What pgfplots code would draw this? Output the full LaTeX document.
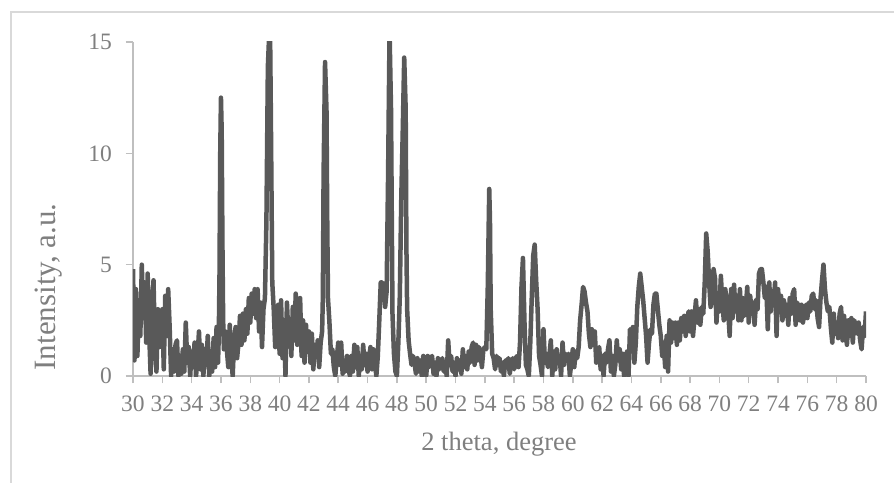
\documentclass[border=0pt]{standalone}
\usepackage{fontspec}
\setmainfont{Liberation Serif}
\usepackage{pgfplots}
\pgfplotsset{compat=1.18}
\definecolor{linegray}{HTML}{595959}
\definecolor{axisgray}{HTML}{BFBFBF}
\definecolor{textgray}{HTML}{7F7F7F}
\definecolor{framegray}{HTML}{D9D9D9}
\begin{document}
\begin{tikzpicture}
\useasboundingbox (0,0) rectangle (894pt,482pt);
\fill[white] (0,0) rectangle (894pt,482pt);
\draw[framegray, line width=1.5pt] (11pt,-2pt) -- (11pt,470pt) -- (896pt,470pt);
\begin{axis}[
 at={(133pt,106pt)}, anchor=south west,
 scale only axis, width=733pt, height=334pt,
 xmin=30, xmax=80, ymin=0, ymax=15,
 xtick={30,32,...,80}, ytick={0,5,10,15},
 axis x line*=bottom, axis y line*=left,
 axis line style={axisgray, line width=1.5pt, -},
 tick style={axisgray, line width=1.5pt},
 tick align=outside, major tick length=7pt,
 tick label style={font=\fontsize{23.5}{27}\selectfont, text=textgray, inner sep=0pt},
 /pgf/number format/assume math mode=true,
 xticklabel style={anchor=north, yshift=-13pt},
 yticklabel style={anchor=east, xshift=-14pt},
 xlabel={2 theta, degree}, ylabel={Intensity, a.u.},
 label style={text=textgray, inner sep=0pt},
 xlabel style={font=\fontsize{26.5}{30}\selectfont, at={(axis description cs:0.4993,-0.2216)}, anchor=base},
 ylabel style={font=\fontsize{31}{36}\selectfont, at={(axis description cs:-0.1051,0.2665)}, anchor=base},
]
\addplot[linegray, line width=4.5pt, line join=round, no marks] coordinates {
(30.0,4.8)(30.1,0.7)(30.2,3.9)(30.3,0.9)(30.4,3.4)(30.5,1.8)(30.6,5.0)(30.7,2.6)(30.8,4.2)(30.9,1.5)
(31.0,4.6)(31.1,2.0)(31.2,0.1)(31.3,3.1)(31.4,4.3)(31.5,1.2)(31.6,0.2)(31.7,3.0)(31.8,1.3)(31.9,2.5)
(32.0,3.0)(32.1,0.3)(32.2,3.6)(32.3,1.8)(32.4,3.9)(32.5,2.2)(32.6,0.0)(32.7,1.2)(32.8,0.2)(32.9,1.4)
(33.0,1.6)(33.1,0.0)(33.2,0.9)(33.3,0.1)(33.4,1.2)(33.5,0.2)(33.6,2.4)(33.7,0.6)(33.8,1.3)(33.9,0.0)
(34.0,1.1)(34.1,0.4)(34.2,1.5)(34.3,0.0)(34.4,0.8)(34.5,2.0)(34.6,0.3)(34.7,1.4)(34.8,0.0)(34.9,1.2)
(35.0,0.5)(35.1,1.8)(35.2,0.0)(35.3,1.0)(35.4,0.2)(35.5,1.7)(35.6,0.4)(35.7,2.2)(35.8,0.6)(35.85,1.8)
(35.9,4.5)(35.95,10.0)(36.0,12.5)(36.05,11.0)(36.1,6.0)(36.15,2.5)(36.2,1.2)(36.3,2.0)(36.4,1.2)(36.5,0.4)
(36.6,2.3)(36.7,0.9)(36.8,0.0)(36.9,1.6)(37.0,2.2)(37.1,0.8)(37.2,1.5)(37.3,2.7)(37.4,1.4)(37.5,2.8)
(37.6,1.6)(37.7,3.0)(37.8,1.9)(37.9,3.5)(38.0,2.4)(38.1,3.7)(38.2,2.8)(38.3,3.9)(38.4,2.6)(38.5,3.9)
(38.6,2.0)(38.7,3.3)(38.8,1.3)(38.9,3.0)(39.0,3.5)(39.1,6.9)(39.2,13.9)(39.3,15.5)(39.35,15.5)(39.4,12.0)
(39.5,4.2)(39.6,3.0)(39.7,1.3)(39.8,2.2)(39.9,3.2)(40.0,1.0)(40.1,3.4)(40.2,0.8)(40.3,2.5)(40.4,0.0)
(40.5,3.3)(40.6,1.8)(40.7,2.4)(40.8,0.9)(40.9,3.1)(41.0,1.6)(41.1,3.7)(41.2,1.4)(41.3,2.8)(41.4,3.5)
(41.5,0.9)(41.6,2.5)(41.7,0.6)(41.8,2.3)(41.9,1.1)(42.0,2.0)(42.1,0.6)(42.2,1.9)(42.3,0.3)(42.4,1.4)
(42.5,0.9)(42.6,1.6)(42.7,0.4)(42.8,1.5)(42.9,2.0)(42.95,3.5)(43.0,9.0)(43.1,14.1)(43.2,11.9)(43.25,7.0)
(43.3,3.5)(43.4,2.4)(43.5,1.0)(43.6,1.2)(43.7,0.4)(43.8,0.0)(43.9,0.8)(44.0,1.5)(44.1,0.5)(44.2,1.5)
(44.3,0.1)(44.4,0.7)(44.5,0.2)(44.6,0.9)(44.7,0.3)(44.8,0.0)(44.9,0.9)(45.0,0.2)(45.1,1.4)(45.2,0.4)
(45.3,1.3)(45.4,0.0)(45.5,0.9)(45.6,0.3)(45.7,1.4)(45.8,0.5)(45.9,1.0)(46.0,0.2)(46.1,0.8)(46.2,1.3)
(46.3,0.3)(46.4,1.2)(46.5,0.6)(46.6,0.0)(46.7,0.9)(46.8,2.5)(46.9,4.2)(47.0,4.2)(47.1,4.0)(47.2,3.1)
(47.3,3.8)(47.4,9.0)(47.5,15.5)(47.6,12.0)(47.7,2.8)(47.8,1.0)(47.9,0.2)(48.0,0.0)(48.1,1.5)(48.2,3.6)
(48.3,8.0)(48.4,11.0)(48.5,14.3)(48.6,12.0)(48.65,5.8)(48.7,3.0)(48.8,1.6)(48.9,1.0)(49.0,0.5)(49.1,0.9)
(49.2,0.6)(49.3,0.1)(49.4,0.8)(49.5,0.2)(49.6,0.7)(49.7,0.0)(49.8,0.9)(49.9,0.3)(50.0,0.0)(50.1,0.9)
(50.2,0.4)(50.3,0.8)(50.4,0.9)(50.5,0.1)(50.6,0.6)(50.7,0.0)(50.8,0.8)(50.9,0.3)(51.0,0.6)(51.1,0.8)
(51.2,0.2)(51.3,0.5)(51.4,0.0)(51.5,1.6)(51.6,0.5)(51.7,0.9)(51.8,0.2)(51.9,0.6)(52.0,0.0)(52.1,0.8)
(52.2,0.3)(52.3,0.7)(52.4,0.1)(52.5,1.2)(52.6,0.4)(52.7,0.9)(52.8,0.3)(52.9,1.1)(53.0,0.6)(53.1,1.3)
(53.2,1.5)(53.3,0.5)(53.4,1.4)(53.5,0.7)(53.6,1.3)(53.7,1.0)(53.8,0.4)(53.9,1.2)(54.0,1.3)(54.1,1.2)
(54.2,4.0)(54.3,8.4)(54.35,7.0)(54.4,3.0)(54.5,1.0)(54.6,0.8)(54.7,0.3)(54.8,0.9)(54.9,0.5)(55.0,0.8)
(55.1,0.2)(55.2,0.6)(55.3,0.0)(55.4,0.7)(55.5,0.5)(55.6,0.8)(55.7,0.1)(55.8,0.6)(55.9,0.8)(56.0,0.3)
(56.1,0.8)(56.2,0.9)(56.3,0.4)(56.4,1.5)(56.5,4.0)(56.6,5.3)(56.7,2.5)(56.8,0.5)(56.9,0.3)(57.0,0.0)
(57.1,1.5)(57.2,3.5)(57.3,5.4)(57.4,5.9)(57.5,4.3)(57.6,3.0)(57.7,0.9)(57.8,0.5)(57.9,0.0)(58.0,2.1)
(58.1,0.6)(58.2,1.0)(58.3,0.4)(58.4,0.9)(58.5,1.6)(58.6,0.0)(58.7,1.1)(58.8,0.3)(58.9,1.2)(59.0,0.6)
(59.1,0.9)(59.2,0.0)(59.3,1.5)(59.4,0.5)(59.5,1.0)(59.6,0.8)(59.7,1.0)(59.8,0.0)(59.9,0.6)(60.0,1.2)
(60.1,0.4)(60.2,1.1)(60.3,0.8)(60.4,1.3)(60.5,2.5)(60.6,3.2)(60.7,4.0)(60.8,3.8)(60.9,3.3)(61.0,2.9)
(61.1,1.9)(61.2,1.3)(61.3,2.1)(61.4,1.4)(61.5,2.0)(61.6,0.6)(61.7,1.1)(61.8,1.3)(61.9,0.3)(62.0,0.9)
(62.1,0.0)(62.2,1.0)(62.3,0.6)(62.4,1.2)(62.5,1.6)(62.6,0.2)(62.7,0.9)(62.8,0.0)(62.9,0.5)(63.0,1.6)
(63.1,0.7)(63.2,1.2)(63.3,0.3)(63.4,1.0)(63.5,0.0)(63.6,0.6)(63.7,1.1)(63.8,0.0)(63.9,2.1)(64.0,1.8)
(64.1,2.2)(64.2,0.6)(64.3,1.5)(64.4,3.1)(64.5,4.0)(64.6,4.6)(64.7,4.0)(64.8,3.4)(64.9,2.6)(65.0,1.8)
(65.1,0.6)(65.2,1.5)(65.3,2.1)(65.4,1.9)(65.5,3.2)(65.6,3.7)(65.7,3.7)(65.8,3.0)(65.9,2.3)(66.0,1.8)
(66.1,0.9)(66.2,1.5)(66.3,0.4)(66.4,1.8)(66.5,0.2)(66.6,2.5)(66.7,1.5)(66.8,2.4)(66.9,1.7)(67.0,2.4)
(67.1,1.4)(67.2,2.4)(67.3,1.6)(67.4,2.6)(67.5,2.0)(67.6,2.7)(67.7,1.8)(67.8,2.5)(67.9,2.9)(68.0,2.0)
(68.1,2.9)(68.2,1.8)(68.3,2.6)(68.4,3.4)(68.5,2.4)(68.6,3.0)(68.7,2.3)(68.8,3.1)(68.9,2.8)(69.0,4.2)
(69.1,6.4)(69.2,5.6)(69.3,4.2)(69.4,3.1)(69.5,3.5)(69.6,4.8)(69.7,4.4)(69.8,2.4)(69.9,3.5)(70.0,2.9)
(70.1,4.5)(70.2,3.3)(70.3,2.5)(70.4,3.9)(70.5,3.4)(70.6,2.9)(70.7,1.8)(70.8,3.9)(70.9,2.6)(71.0,4.1)
(71.1,2.9)(71.2,3.6)(71.3,2.5)(71.4,3.9)(71.5,2.5)(71.6,3.5)(71.7,2.7)(71.8,3.1)(71.9,4.0)(72.0,2.4)
(72.1,3.6)(72.2,2.9)(72.3,3.3)(72.4,2.3)(72.5,3.4)(72.6,3.0)(72.7,4.6)(72.8,4.8)(72.9,4.8)(73.0,4.2)
(73.1,3.5)(73.2,4.0)(73.3,2.1)(73.4,4.2)(73.5,2.9)(73.6,3.8)(73.7,3.3)(73.8,4.2)(73.9,1.8)(74.0,3.9)
(74.1,3.0)(74.2,3.6)(74.3,2.5)(74.4,3.4)(74.5,2.7)(74.6,3.2)(74.7,2.3)(74.8,3.5)(74.9,2.8)(75.0,3.7)
(75.1,3.9)(75.2,2.3)(75.3,3.3)(75.4,3.1)(75.5,2.5)(75.6,3.2)(75.7,2.4)(75.8,2.9)(75.9,3.2)(76.0,2.6)
(76.1,3.3)(76.2,2.9)(76.3,3.6)(76.4,3.7)(76.5,3.0)(76.6,3.4)(76.7,2.6)(76.8,2.2)(76.9,3.5)(77.0,4.3)
(77.1,5.0)(77.2,3.9)(77.3,3.3)(77.4,2.9)(77.5,3.1)(77.6,2.2)(77.7,1.5)(77.8,2.8)(77.9,1.9)(78.0,2.4)
(78.1,1.7)(78.2,2.8)(78.3,3.1)(78.4,1.6)(78.5,2.7)(78.6,2.0)(78.7,1.4)(78.8,2.5)(78.9,1.8)(79.0,2.6)
(79.1,1.5)(79.2,2.5)(79.3,2.2)(79.4,1.9)(79.5,2.4)(79.6,1.6)(79.7,1.2)(79.8,2.2)(79.9,1.8)(80.0,2.9)
};
\end{axis}
\end{tikzpicture}
\end{document}
